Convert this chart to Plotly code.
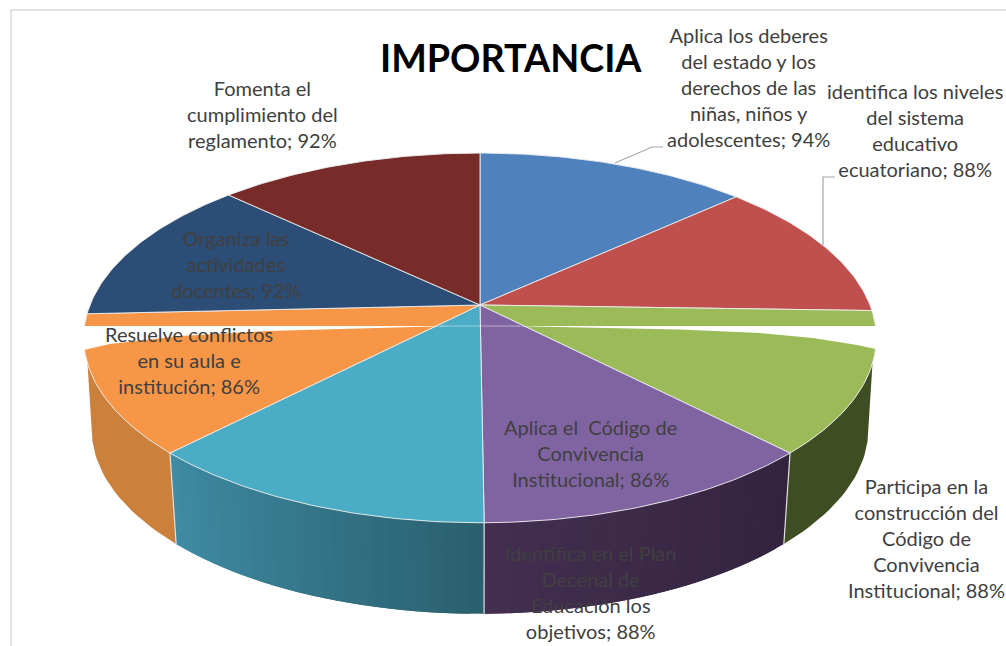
import numpy as np
import plotly.graph_objects as go

TITLE = "IMPORTANCIA"
labels = [
    "Aplica los deberes<br>del estado y los<br>derechos de las<br>niñas, niños y<br>adolescentes; 94%",
    "identifica los niveles<br>del sistema<br>educativo<br>ecuatoriano; 88%",
    "Participa en la<br>construcción del<br>Código de<br>Convivencia<br>Institucional; 88%",
    "Aplica el  Código de<br>Convivencia<br>Institucional; 86%",
    "Identifica en el Plan<br>Decenal de<br>Educación los<br>objetivos; 88%",
    "Resuelve conflictos<br>en su aula e<br>institución; 86%",
    "Organiza las<br>actividades<br>docentes; 92%",
    "Fomenta el<br>cumplimiento del<br>reglamento; 92%",
]
values = [94, 88, 88, 86, 88, 86, 92, 92]
face_colors = ["#4F81BD", "#C0504D", "#9BBB59", "#8064A2", "#4BACC6", "#F79646", "#2C4D75", "#772C2A"]
label_centers = [(748, 87), (915, 130), (926, 538), (590, 453), (590, 592), (189, 360), (235, 264), (262, 114)]

CX, CY, A, B, K = 480, 305, 390, 179, 0.178
DEPTH, BOTTOM_SCALE = 91, 0.98
FONT = "Lato"
TEXT = "#404040"


def top(t):
    t = np.radians(t)
    d = 1 + K * np.cos(t)
    return CX + A * np.sin(t) / d, CY - B * np.cos(t) / d


def bottom(t):
    x, y = top(t)
    return CX + BOTTOM_SCALE * (x - CX), y + DEPTH


def mix(c1, c2, f):
    a = [int(c1[i:i + 2], 16) for i in (1, 3, 5)]
    b = [int(c2[i:i + 2], 16) for i in (1, 3, 5)]
    return "rgb(%d,%d,%d)" % tuple(round(p + (q - p) * f) for p, q in zip(a, b))


fig = go.Figure()
edges = np.concatenate([[0], np.cumsum(values) / sum(values) * 360])


def poly(x, y, fill, line=None, width=0):
    fig.add_trace(go.Scatter(x=list(x), y=list(y), mode="lines", fill="toself", fillcolor=fill,
                             line=dict(color=line or fill, width=width), hoverinfo="skip", showlegend=False))


def side(t0, t1, c0, c1, n=26):
    # each strip overlaps the next one, so no seams show between them
    grid = np.linspace(t0, t1, n + 1)
    for i in range(n):
        a, b = grid[i], grid[min(i + 2, n)]
        xa, ya = top(a)
        xb, yb = top(b)
        xc, yc = bottom(b)
        xd, yd = bottom(a)
        poly([xa, xb, xc, xd, xa], [ya, yb, yc, yd, ya], mix(c0, c1, (i + .5) / n))


# side walls, computed from the slice boundaries
t_g, t_p, t_t, t_o = edges[3], edges[4], edges[5], edges[6]
tt = np.linspace(108, t_g, 24)
bb = np.linspace(t_g, 104, 24)
poly(list(top(tt)[0]) + list(bottom(bb)[0]), list(top(tt)[1]) + list(bottom(bb)[1]), "#3F4D22")
side(t_g, t_p, "#33233E", "#432F50")
side(t_p, t_t, "#2A5F6D", "#3F8CA5")
tt = np.linspace(t_t, 252, 24)
bb = np.linspace(256, t_t, 24)
poly(list(top(tt)[0]) + list(bottom(bb)[0]), list(top(tt)[1]) + list(bottom(bb)[1]), "#CB803B")
for t in (t_g, t_p, t_t):
    x0, y0 = top(t)
    x1, y1 = bottom(t)
    fig.add_trace(go.Scatter(x=[x0, x1], y=[y0, y1], mode="lines", line=dict(color="#E0E0E0", width=1.2),
                             hoverinfo="skip", showlegend=False))

# top faces
for i, c in enumerate(face_colors):
    ts = np.linspace(edges[i], edges[i + 1], 60)
    x, y = top(ts)
    poly([CX] + list(x) + [CX], [CY] + list(y) + [CY], c, "#EDEDED", 0.9)

# white split across the picture
gap_r_x = [510, 680, 760, 813, 857, 885, 885]
gap_r_y = [326, 329.5, 333, 338, 345, 351, 326]
gap_l_x = [450, 367, 267, 180, 110, 75, 75]
gap_l_y = [326, 328, 331, 336, 344, 352, 326]
poly(gap_r_x + [gap_r_x[0]], gap_r_y + [gap_r_y[0]], "white")
poly(gap_l_x + [gap_l_x[0]], gap_l_y + [gap_l_y[0]], "white")

shapes = [
    dict(type="line", x0=11, x1=11, y0=10, y1=646, line=dict(color="#D9D9D9", width=1.5)),
    dict(type="line", x0=10, x1=1006, y0=10, y1=10, line=dict(color="#D9D9D9", width=1.5)),
    dict(type="line", x0=440, x1=520, y0=326, y1=326, line=dict(color="rgba(255,255,255,0.45)", width=1)),
    dict(type="path", path="M615,163 L652,147 L663,147", line=dict(color="#A6A6A6", width=1.2)),
    dict(type="path", path="M823,245 L823,177 L835,177", line=dict(color="#A6A6A6", width=1.2)),
]

annotations = [dict(x=511, y=57, text="<b>%s</b>" % TITLE, showarrow=False,
                    font=dict(family=FONT, size=37.7, color="black"), xanchor="center", yanchor="middle")]
for text, (x, y) in zip(labels, label_centers):
    annotations.append(dict(x=x, y=y, text=text, showarrow=False, align="center",
                            font=dict(family=FONT, size=20, color=TEXT), xanchor="center", yanchor="middle"))

fig.update_layout(
    width=1006, height=646, margin=dict(l=0, r=0, t=0, b=0),
    paper_bgcolor="white", plot_bgcolor="white",
    xaxis=dict(range=[0, 1006], visible=False, fixedrange=True),
    yaxis=dict(range=[646, 0], visible=False, fixedrange=True),
    shapes=shapes, annotations=annotations,
)
fig.write_html("out.html", config={"displayModeBar": False},
               post_script="document.body.style.margin='0';document.body.style.overflow='hidden';")
